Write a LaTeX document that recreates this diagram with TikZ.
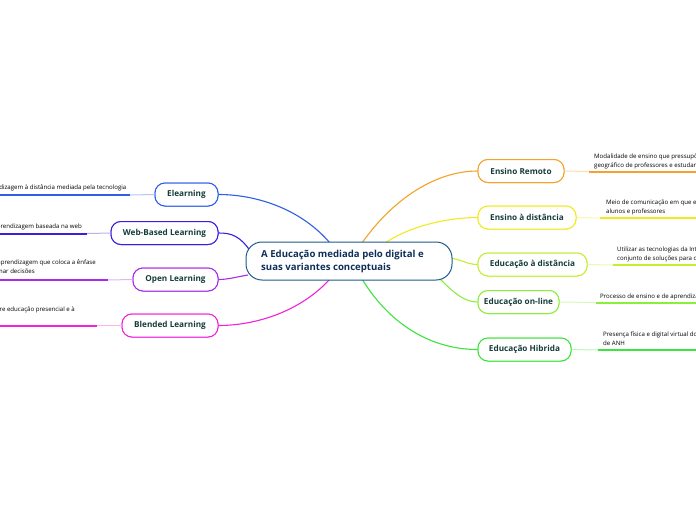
\documentclass[tikz,border=0pt]{standalone}
\usepackage{fontspec}
\setmainfont{Open Sans}
\definecolor{cnavy}{HTML}{0F2F5A}
\definecolor{cborder}{HTML}{1D5A8A}
\definecolor{ctext}{HTML}{143C3A}
\definecolor{corange}{HTML}{F5A22A}
\definecolor{cyellow}{HTML}{F2EA1E}
\definecolor{cygreen}{HTML}{C4EE32}
\definecolor{clgreen}{HTML}{8CEE3C}
\definecolor{cgreen}{HTML}{3EE43E}
\definecolor{cblue}{HTML}{2F5FE8}
\definecolor{cindigo}{HTML}{3A1FE0}
\definecolor{cpurple}{HTML}{A72CE8}
\definecolor{cmagenta}{HTML}{F025D8}
\tikzset{
  topic/.style={draw=#1, line width=1pt, rounded corners=10pt, fill=white,
    minimum height=23pt, inner sep=2pt, text=ctext, font=\fontsize{8.2}{9}\selectfont\bfseries},
  conn/.style={draw=#1, line width=1.1pt},
  lightline/.style={draw=#1!35, line width=1pt},
  subline/.style={draw=#1, line width=2pt},
  small/.style={font=\fontsize{6.1}{8.5}\selectfont, text=black, inner sep=0pt}
}
\begin{document}
\begin{tikzpicture}[x=1pt,y=-1pt]
\useasboundingbox (0,0) rectangle (696,520);
\clip (0,0) rectangle (696,520);
\fill[white] (0,0) rectangle (696,520);

% coordinates on central topic
\coordinate (cER) at (362,243);
\coordinate (cED) at (385,243);
\coordinate (cEaD) at (451,258);
\coordinate (cEO) at (440,279);
\coordinate (cEH) at (362,279);
\coordinate (cEL) at (330,243);
\coordinate (cWB) at (251,252);
\coordinate (cOL) at (248,275);
\coordinate (cBL) at (330,279);

% topic nodes (positions for connectors)
\node[topic=corange, minimum width=86pt] (er) at (521,171) {Ensino Remoto};
\node[topic=cyellow, minimum width=98pt] (ed) at (527,217.5) {Ensino à distância};
\node[topic=cygreen, minimum width=109pt] (ead) at (532.5,264.5) {Educação à distância};
\node[topic=clgreen, minimum width=81pt] (eo) at (518.5,302) {Educação on-line};
\node[topic=cgreen, minimum width=93pt] (eh) at (524.5,349.5) {Educação Hibrida};
\node[topic=cblue, minimum width=63pt] (el) at (186.5,194.5) {Elearning};
\node[topic=cindigo, minimum width=107pt] (wb) at (164.5,233) {Web-Based Learning};
\node[topic=cpurple, minimum width=85pt] (ol) at (175.5,279.5) {Open Learning};
\node[topic=cmagenta, minimum width=96pt] (bl) at (170,325.5) {Blended Learning};

% connectors
\draw[conn=corange] (cER) .. controls (392,200) and (435,171) .. (er.west);
\draw[conn=cyellow] (cED) .. controls (410,226) and (448,217.5) .. (ed.west);
\draw[conn=cygreen] (cEaD) .. controls (462,260) and (468,264.5) .. (ead.west);
\draw[conn=clgreen] (cEO) .. controls (455,294) and (465,302) .. (eo.west);
\draw[conn=cgreen] (cEH) .. controls (392,328) and (435,349.5) .. (eh.west);
\draw[conn=cblue] (cEL) .. controls (300,208) and (255,194.5) .. (el.east);
\draw[conn=cindigo] (cWB) .. controls (240,236) and (232,233) .. (wb.east);
\draw[conn=cpurple] (cOL) .. controls (236,277) and (228,279.5) .. (ol.east);
\draw[conn=cmagenta] (cBL) .. controls (300,312) and (255,325.5) .. (bl.east);

% redraw topic nodes on top
\node[topic=corange, minimum width=86pt] at (521,171) {Ensino Remoto};
\node[topic=cyellow, minimum width=98pt] at (527,217.5) {Ensino à distância};
\node[topic=cygreen, minimum width=109pt] at (532.5,264.5) {Educação à distância};
\node[topic=clgreen, minimum width=81pt] at (518.5,302) {Educação on-line};
\node[topic=cgreen, minimum width=93pt] at (524.5,349.5) {Educação Hibrida};
\node[topic=cblue, minimum width=63pt] at (186.5,194.5) {Elearning};
\node[topic=cindigo, minimum width=107pt] at (164.5,233) {Web-Based Learning};
\node[topic=cpurple, minimum width=85pt] at (175.5,279.5) {Open Learning};
\node[topic=cmagenta, minimum width=96pt] at (170,325.5) {Blended Learning};

% central topic
\node[draw=cborder, line width=1pt, rounded corners=16pt, fill=white,
  minimum width=206pt, minimum height=38pt] (central) at (349,261) {};
\node[anchor=west, inner sep=0pt, text=cnavy, font=\fontsize{9.6}{13.5}\selectfont\bfseries,
  align=left] (centralText) at (261,261.5)
  {A Educação mediada pelo digital e\\suas variantes conceptuais};

% sub-branch lines, right
\coordinate (erA) at (589,171.5); \coordinate (erB) at (700,171.5);
\draw[lightline=corange] (er.east) -- (erA);
\draw[subline=corange] (erA) -- (erB);
\node[small, anchor=base west] (erT1) at (594,158) {Modalidade de ensino que pressupõe o afastamento};
\node[small, anchor=base west] (erT2) at (594,167) {geográfico de professores e estudantes};

\coordinate (edA) at (600,218); \coordinate (edB) at (700,218);
\draw[lightline=cyellow] (ed.east) -- (edA);
\draw[subline=cyellow] (edA) -- (edB);
\node[small, anchor=base west] (edT1) at (606,204) {Meio de comunicação em que estão envolvidos};
\node[small, anchor=base west] (edT2) at (606,213) {alunos e professores};

\coordinate (eadA) at (613,265); \coordinate (eadB) at (700,265);
\draw[lightline=cygreen] (ead.east) -- (eadA);
\draw[subline=cygreen] (eadA) -- (eadB);
\node[small, anchor=base west] (eadT1) at (617,251) {Utilizar as tecnologias da Internet para um};
\node[small, anchor=base west] (eadT2) at (617,260) {conjunto de soluções para que};

\coordinate (eoA) at (596,302.5); \coordinate (eoB) at (700,302.5);
\draw[lightline=clgreen] (eo.east) -- (eoA);
\draw[subline=clgreen] (eoA) -- (eoB);
\node[small, anchor=base west] (eoT1) at (600,298.5) {Processo de ensino e de aprendizagem};

\coordinate (ehA) at (598,350); \coordinate (ehB) at (700,350);
\draw[lightline=cgreen] (eh.east) -- (ehA);
\draw[subline=cgreen] (ehA) -- (ehB);
\node[small, anchor=base west] (ehT1) at (603,336) {Presença física e digital virtual do};
\node[small, anchor=base west] (ehT2) at (603,345) {de ANH};

% sub-branch lines, left
\coordinate (elA) at (130,195); \coordinate (elB) at (-4,195);
\draw[lightline=cblue] (el.west) -- (elA);
\draw[subline=cblue] (elA) -- (elB);
\node[small, anchor=base east] (elT1) at (126.5,189) {Aprendizagem à distância mediada pela tecnologia};

\coordinate (wbA) at (87,233.5); \coordinate (wbB) at (-4,233.5);
\draw[lightline=cindigo] (wb.west) -- (wbA);
\draw[subline=cindigo] (wbA) -- (wbB);
\node[small, anchor=base east] (wbT1) at (82,228) {Aprendizagem baseada na web};

\coordinate (olA) at (108,280); \coordinate (olB) at (-4,280);
\draw[lightline=cpurple] (ol.west) -- (olA);
\draw[subline=cpurple] (olA) -- (olB);
\node[small, anchor=base east] (olT1) at (96,264.5) {de aprendizagem que coloca a ênfase};
\node[small, anchor=base east] (olT2) at (35,273.5) {tomar decisões};

\coordinate (blA) at (97,325.5); \coordinate (blB) at (-4,325.5);
\draw[lightline=cmagenta] (bl.west) -- (blA);
\draw[subline=cmagenta] (blA) -- (blB);
\node[small, anchor=base east] (blT1) at (75,311) {entre educação presencial e à};
\end{tikzpicture}
\end{document}
